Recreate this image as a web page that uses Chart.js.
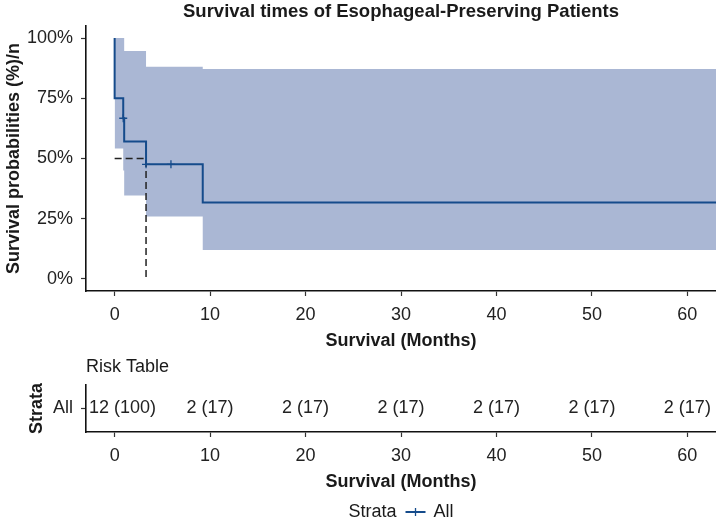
<!DOCTYPE html>
<html>
<head>
<meta charset="utf-8">
<script src="https://cdn.jsdelivr.net/npm/chart.js@4.4.1/dist/chart.umd.min.js"></script>
<style>
  html, body { margin: 0; padding: 0; background: #ffffff; }
  #wrap { position: relative; width: 716px; height: 522px; overflow: hidden; background: #fff; }
  #boxA { position: absolute; left: 0; top: 0; width: 716px; height: 352px; }
  #boxB { position: absolute; left: 0; top: 352px; width: 716px; height: 170px; }
</style>
</head>
<body>
<div id="wrap">
  <div id="boxA"><canvas id="chartA"></canvas></div>
  <div id="boxB"><canvas id="chartB"></canvas></div>
</div>
<script>
// ---------------- data ----------------
const xTicks = [0, 10, 20, 30, 40, 50, 60];
const yTicks = [0, 25, 50, 75, 100];

const survTimes = [0, 0, 0.9, 1.0, 3.29, 9.23, 63];
const survProb  = [100, 75, 66.7, 57.1, 47.6, 31.7, 31.7];

const ciTimes = [0, 0.9, 1.0, 3.29, 9.23, 63];
const ciUpper = [100, 100, 94.6, 88.1, 87.1, 87.1];
const ciLower = [54.2, 45.0, 34.6, 25.9, 12.0, 12.0];

const censorTimes = [0.9, 3.29, 5.9];
const censorProb  = [66.7, 47.6, 47.6];

const medianTime = 3.29;
const medianProb = 50;

const strataLabels = ['All'];
const riskTimes = [0, 10, 20, 30, 40, 50, 60];
const riskN     = [12, 2, 2, 2, 2, 2, 2];
const riskPct   = [100, 17, 17, 17, 17, 17, 17];

// ---------------- styles ----------------
const FONT = "'Liberation Sans', Arial, Helvetica, sans-serif";
const FS = 18;
const LINE = '#154b8b';
const BAND = '#aab7d4';
const TXT = '#1a1a1a';
const TICK = '#222222';

function toPts(xs, ys) { return xs.map((x, i) => ({ x: x, y: ys[i] })); }

const xMin = -3, xMax = 63;

function xAxis(height, titleBottom) {
  return {
    type: 'linear', min: xMin, max: xMax,
    afterBuildTicks: s => { s.ticks = xTicks.map(v => ({ value: v })); },
    afterFit: s => { s.height = height; s.paddingLeft = 0; s.paddingRight = 0; },
    border: { display: true, color: '#111', width: 1.6 },
    grid: { drawOnChartArea: false, drawTicks: true, tickLength: 5, color: '#333', tickWidth: 1.2 },
    ticks: { color: TICK, font: { family: FONT, size: FS }, padding: 8, maxRotation: 0 },
    title: { display: true, text: 'Survival (Months)', color: TXT,
             font: { family: FONT, size: FS, weight: 'bold' }, padding: { top: 0, bottom: titleBottom } }
  };
}

Chart.defaults.animation = false;
Chart.defaults.devicePixelRatio = 1;

// ---------------- chart A: survival curve ----------------
new Chart(document.getElementById('chartA'), {
  type: 'line',
  data: {
    datasets: [
      { label: 'upper', data: toPts(ciTimes, ciUpper), stepped: 'before', borderWidth: 0,
        pointRadius: 0, fill: '+1', backgroundColor: BAND, borderColor: 'rgba(0,0,0,0)', order: 6 },
      { label: 'lower', data: toPts(ciTimes, ciLower), stepped: 'before', borderWidth: 0,
        pointRadius: 0, fill: false, borderColor: 'rgba(0,0,0,0)', order: 7 },
      { label: 'median', data: [{ x: 0, y: medianProb }, { x: medianTime, y: medianProb }, { x: medianTime, y: 0 }],
        borderColor: '#222', borderWidth: 1.5, borderDash: [7, 4], pointRadius: 0, fill: false, order: 3 },
      { label: 'All', data: toPts(survTimes, survProb), stepped: 'before', borderColor: LINE,
        borderWidth: 2, pointRadius: 0, fill: false, order: 2 },
      { label: 'censor', data: toPts(censorTimes, censorProb), showLine: false, pointStyle: 'cross',
        pointRadius: 4, borderColor: LINE, borderWidth: 1.3, backgroundColor: LINE, order: 1 }
    ]
  },
  options: {
    responsive: true, maintainAspectRatio: false,
    layout: { padding: 0, autoPadding: false },
    plugins: {
      legend: { display: false },
      tooltip: { enabled: false },
      title: { display: true, text: 'Survival times of Esophageal-Preserving Patients', fullSize: false,
               color: TXT, font: { family: FONT, size: 18.5, weight: 'bold' }, padding: { top: 1, bottom: 2.8 } }
    },
    scales: {
      x: xAxis(61, 0),
      y: {
        type: 'linear', min: -5, max: 105,
        afterBuildTicks: s => { s.ticks = yTicks.map(v => ({ value: v })); },
        afterFit: s => { s.width = 86; },
        border: { display: true, color: '#111', width: 1.6 },
        grid: { drawOnChartArea: false, tickLength: 5, color: '#333', tickWidth: 1.2 },
        ticks: { color: TICK, font: { family: FONT, size: FS }, padding: 8, callback: v => v + '%' },
        title: { display: true, text: 'Survival probabilities (%)/n', color: TXT,
                 font: { family: FONT, size: FS, weight: 'bold' }, padding: { top: 3, bottom: 0 } }
      }
    }
  }
});

// ---------------- chart B: risk table ----------------
const riskTextPlugin = {
  id: 'riskText',
  afterDatasetsDraw(chart) {
    const ctx = chart.ctx, xs = chart.scales.x, ys = chart.scales.y, area = chart.chartArea;
    ctx.save();
    ctx.font = FS + 'px ' + FONT;
    ctx.fillStyle = TICK;
    ctx.textBaseline = 'middle';
    ctx.textAlign = 'center';
    const y = ys.getPixelForValue(0);
    riskTimes.forEach((t, i) => {
      const txt = riskN[i] + ' (' + riskPct[i] + ')';
      const w = ctx.measureText(txt).width;
      let x = xs.getPixelForValue(t);
      if (x - w / 2 < area.left + 3) x = area.left + 3 + w / 2;
      if (x + w / 2 > chart.width - 2) x = chart.width - 2 - w / 2;
      ctx.fillText(txt, x, y);
    });
    ctx.restore();
  },
  afterDraw(chart) {
    // legend: "Strata  -+-  All"
    const ctx = chart.ctx, area = chart.chartArea;
    ctx.save();
    ctx.font = FS + 'px ' + FONT;
    ctx.fillStyle = TXT;
    ctx.textBaseline = 'middle';
    ctx.textAlign = 'left';
    const t1 = 'Strata', t2 = strataLabels[0];
    const w1 = ctx.measureText(t1).width, w2 = ctx.measureText(t2).width;
    const gap1 = 9, sym = 20, gap2 = 8;
    const total = w1 + gap1 + sym + gap2 + w2;
    let x = (area.left + area.right) / 2 - total / 2;
    const y = 160;
    ctx.fillText(t1, x, y);
    x += w1 + gap1;
    ctx.strokeStyle = LINE;
    ctx.lineWidth = 2;
    ctx.beginPath(); ctx.moveTo(x, y); ctx.lineTo(x + sym, y); ctx.stroke();
    ctx.lineWidth = 1.3;
    ctx.beginPath(); ctx.moveTo(x + sym / 2, y - 4); ctx.lineTo(x + sym / 2, y + 4); ctx.stroke();
    x += sym + gap2;
    ctx.fillText(t2, x, y);
    ctx.restore();
  }
};

new Chart(document.getElementById('chartB'), {
  type: 'line',
  data: {
    datasets: [
      { label: 'risk', data: riskTimes.map(t => ({ x: t, y: strataLabels[0] })), showLine: false, pointRadius: 0 }
    ]
  },
  options: {
    responsive: true, maintainAspectRatio: false,
    layout: { padding: 0, autoPadding: false },
    plugins: {
      legend: { display: false },
      tooltip: { enabled: false },
      title: { display: true, text: 'Risk Table', align: 'start', fullSize: false, color: TXT,
               font: { family: FONT, size: FS, weight: 'normal' }, padding: { top: 4.2, bottom: 7.2 } }
    },
    scales: {
      x: xAxis(90, 29),
      y: {
        type: 'category', labels: strataLabels, offset: true,
        afterFit: s => { s.width = 86; },
        border: { display: true, color: '#111', width: 1.6 },
        grid: { drawOnChartArea: false, offset: false, tickLength: 5, color: '#333', tickWidth: 1.2 },
        ticks: { color: TICK, font: { family: FONT, size: FS }, padding: 8 },
        title: { display: true, text: 'Strata', color: TXT,
                 font: { family: FONT, size: FS, weight: 'bold' }, padding: { top: 26, bottom: 0 } }
      }
    }
  },
  plugins: [riskTextPlugin]
});
</script>
</body>
</html>
